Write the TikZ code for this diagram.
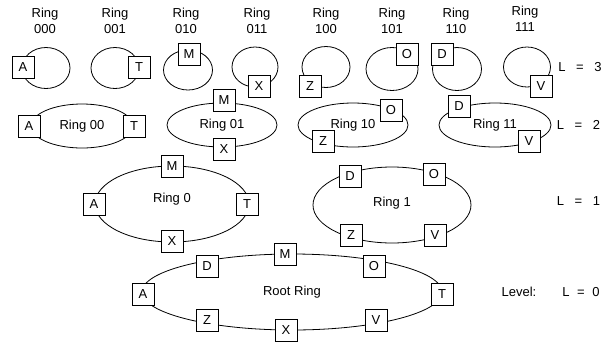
\documentclass[tikz,border=0pt]{standalone}
\usepackage{fontspec}
\setmainfont{Liberation Sans}
\usetikzlibrary{shapes.geometric}
\newcommand{\lvl}[2]{L\hspace{#2} = \hspace{#2}#1}
\begin{document}
\begin{tikzpicture}[x=1pt,y=-1pt,
  every node/.style={font=\fontsize{13}{16}\selectfont},
  ring/.style={draw, ellipse, inner sep=0pt, line width=0.8pt},
  bx/.style={draw, fill=white, minimum size=22pt, inner sep=0pt, line width=0.8pt},
  lbl/.style={align=center, inner sep=0pt}]
\useasboundingbox (0,0) rectangle (614,341);
% ---------- Level 3 ----------
\node[ring, minimum width=48pt, minimum height=41pt] (r000) at (46,68) {};
\node[ring, minimum width=48pt, minimum height=41pt] (r001) at (115,68) {};
\node[ring, minimum width=49pt, minimum height=40pt] (r010) at (188,70) {};
\node[ring, minimum width=46pt, minimum height=40pt] (r011) at (255,67) {};
\node[ring, minimum width=48pt, minimum height=41pt] (r100) at (326,67) {};
\node[ring, minimum width=52pt, minimum height=43pt] (r101) at (392,69) {};
\node[ring, minimum width=49pt, minimum height=43pt] (r110) at (457,69) {};
\node[ring, minimum width=47pt, minimum height=40pt] (r111) at (527,67) {};
\node[bx] (a3) at (23,67) {A};
\node[bx] (t3) at (139,67) {T};
\node[bx] (m3) at (189,54) {M};
\node[bx] (x3) at (259,86) {X};
\node[bx] (z3) at (310,86) {Z};
\node[bx] (o3) at (407,54) {O};
\node[bx] (d3) at (442,54) {D};
\node[bx] (v3) at (541,86) {V};
\node[lbl] (l000) at (45,21) {Ring\\000};
\node[lbl] (l001) at (115,21) {Ring\\001};
\node[lbl] (l010) at (186,21) {Ring\\010};
\node[lbl] (l011) at (257,21) {Ring\\011};
\node[lbl] (l100) at (326,21) {Ring\\100};
\node[lbl] (l101) at (392,21) {Ring\\101};
\node[lbl] (l110) at (456,21) {Ring\\110};
\node[lbl] (l111) at (525,19) {Ring\\111};
\node (L3) at (580,67) {\lvl{3}{7pt}};
% ---------- Level 2 ----------
\node[ring, minimum width=102pt, minimum height=44pt] (r00) at (82,126) {Ring 00};
\node[ring, minimum width=110pt, minimum height=44pt] (r01) at (222,125) {Ring 01};
\node[ring, minimum width=110pt, minimum height=44pt] (r10) at (353,125) {Ring 10};
\node[ring, minimum width=112pt, minimum height=44pt] (r11) at (495,125) {Ring 11};
\node[bx] (a2) at (29,126) {A};
\node[bx] (t2) at (134,126) {T};
\node[bx] (m2) at (224,100) {M};
\node[bx] (x2) at (224,149) {X};
\node[bx] (o2) at (391,110) {O};
\node[bx] (z2) at (323,141) {Z};
\node[bx] (d2) at (459,106) {D};
\node[bx] (v2) at (529,141) {V};
\node (L2) at (578.5,125) {\lvl{2}{7pt}};
% ---------- Level 1 ----------
\node[ring, minimum width=154pt, minimum height=76pt] (r0) at (172,204) {};
\node (r0t) at (172,199) {Ring 0};
\node[ring, minimum width=158pt, minimum height=76pt] (r1) at (392,205) {};
\node (r1t) at (392,203) {Ring 1};
\node[bx] (m1) at (172,166) {M};
\node[bx] (a1) at (94,204) {A};
\node[bx] (t1) at (247,204) {T};
\node[bx] (x1) at (172,241) {X};
\node[bx] (d1) at (350,176) {D};
\node[bx] (o1) at (434,174) {O};
\node[bx] (z1) at (351,235) {Z};
\node[bx] (v1) at (435,235) {V};
\node (L1) at (578.5,201) {\lvl{1}{7pt}};
% ---------- Level 0 ----------
\node[ring, minimum width=300pt, minimum height=76pt] (root) at (292,292) {Root Ring};
\node[bx] (a0) at (143,294) {A};
\node[bx] (t0) at (442,294) {T};
\node[bx] (m0) at (285,254) {M};
\node[bx] (x0) at (286,330) {X};
\node[bx] (d0) at (207,266) {D};
\node[bx] (o0) at (374,266) {O};
\node[bx] (z0) at (207,320) {Z};
\node[bx] (v0) at (376,320) {V};
\node (lev) at (519,292) {Level:};
\node (L0) at (581,292) {\lvl{0}{4pt}};
\end{tikzpicture}
\end{document}
